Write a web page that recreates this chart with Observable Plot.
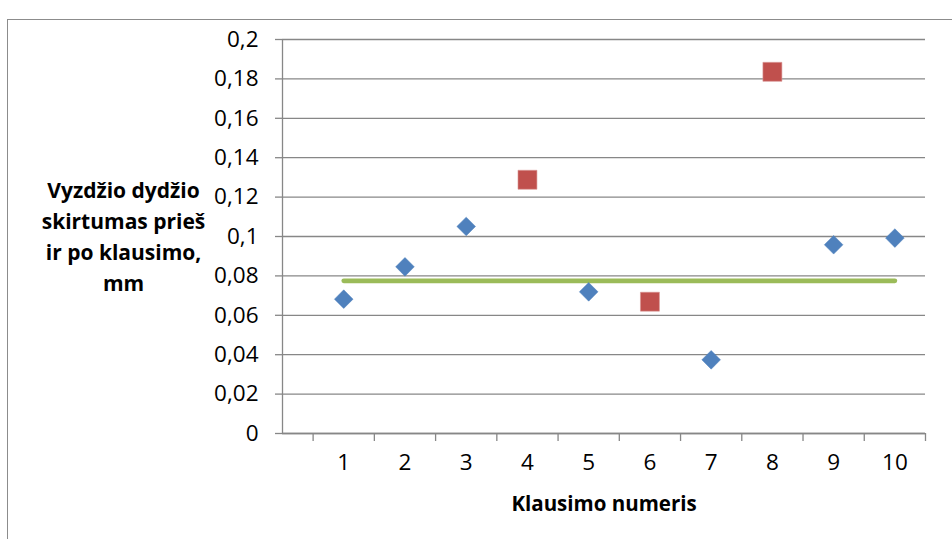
<!DOCTYPE html>
<html>
<head>
<meta charset="utf-8">
<script src="https://cdn.jsdelivr.net/npm/d3@7"></script>
<script src="https://cdn.jsdelivr.net/npm/@observablehq/plot@0.6"></script>
<style>
  html, body { margin: 0; padding: 0; background: #fff; overflow: hidden; }
  #wrap { position: relative; width: 952px; height: 539px; }
  #border { position: absolute; left: 7px; top: 19px; width: 960px; height: 540px;
            border-left: 1.5px solid #8c8c8c; border-top: 1.5px solid #8c8c8c; box-sizing: border-box; }
  #chart { position: absolute; left: 0; top: 0; }
</style>
</head>
<body>
<div id="wrap"><div id="border"></div><div id="chart"></div></div>
<script>
// Data
const questions = [1, 2, 3, 4, 5, 6, 7, 8, 9, 10];
const values = [0.0682, 0.0846, 0.1051, 0.1288, 0.0719, 0.0669, 0.0374, 0.1836, 0.0958, 0.0992];
const isOutlier = [false, false, false, true, false, true, false, true, false, false];
const meanValue = 0.0775;
const meanRange = [1, 10];

const yTicks = [0, 0.02, 0.04, 0.06, 0.08, 0.1, 0.12, 0.14, 0.16, 0.18, 0.2];
const yTickLabels = ["0", "0,02", "0,04", "0,06", "0,08", "0,1", "0,12", "0,14", "0,16", "0,18", "0,2"];
const xTickMarks = [0.5, 1.5, 2.5, 3.5, 4.5, 5.5, 6.5, 7.5, 8.5, 9.5, 10.5];
const xLabel = "Klausimo numeris";
const yLabel = "Vyzdžio dydžio\nskirtumas prieš\nir po klausimo,\nmm";

const points = questions.map((q, i) => ({q, v: values[i], out: isOutlier[i]}));
const normal = points.filter(d => !d.out);
const outliers = points.filter(d => d.out);
const meanLine = meanRange.map(q => ({q, v: meanValue}));

const gray = "#878787";

const chart = Plot.plot({
  width: 952,
  height: 539,
  marginLeft: 282,
  marginRight: 27,
  marginTop: 39,
  marginBottom: 106,
  style: {fontFamily: "'Open Sans', sans-serif", background: "transparent", color: "#000"},
  x: {type: "linear", domain: [0, 10.5]},
  y: {type: "linear", domain: [0, 0.2]},
  marks: [
    Plot.gridY(yTicks, {stroke: gray, strokeOpacity: 1, strokeWidth: 1.3}),
    Plot.axisY(yTicks, {
      tickSize: 7, tickPadding: 17, stroke: gray, strokeWidth: 1.3,
      tickFormat: (d, i) => yTickLabels[i], fontSize: 22.5, fill: "#000", label: null
    }),
    Plot.axisX(xTickMarks, {tickSize: 8, stroke: gray, strokeWidth: 1.3, text: null, label: null}),
    Plot.axisX(questions, {tickSize: 0, tickPadding: 21, fontSize: 22.5, fill: "#000", label: null, tickFormat: d => String(d)}),
    Plot.ruleX([0], {stroke: gray, strokeWidth: 1.3}),
    Plot.ruleY([0], {stroke: gray, strokeWidth: 1.3}),
    Plot.line(meanLine, {x: "q", y: "v", stroke: "#9BBB59", strokeWidth: 4.7, strokeLinecap: "round"}),
    Plot.dot(normal, {x: "q", y: "v", symbol: "diamond2", r: 8.4, fill: "#4F81BD", stroke: "#4F81BD", strokeWidth: 0.5}),
    Plot.dot(outliers, {x: "q", y: "v", symbol: "square", r: 10.7, fill: "#C0504D", stroke: "#D99694", strokeWidth: 0.6}),
    Plot.text([yLabel], {frameAnchor: "left", dx: -159, dy: -2, textAnchor: "middle", fontSize: 21, fontWeight: "bold", lineHeight: 1.47, fill: "#000"}),
    Plot.text([xLabel], {frameAnchor: "bottom", dy: 77, textAnchor: "middle", fontSize: 20.5, fontWeight: "bold", fill: "#000"})
  ]
});
document.getElementById("chart").appendChild(chart);
</script>
</body>
</html>
